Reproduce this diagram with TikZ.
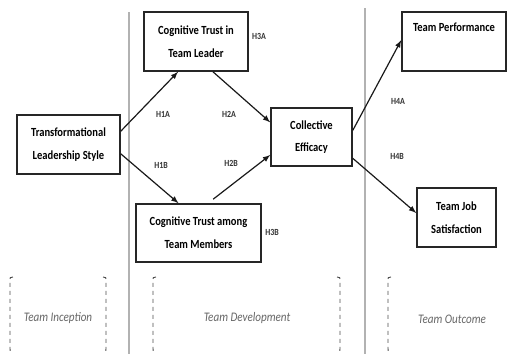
\documentclass[tikz,border=0pt]{standalone}
\usepackage{fontspec}
\setmainfont[FakeStretch=0.85]{Carlito}
\usetikzlibrary{arrows}

\begin{document}
\begin{tikzpicture}[x=0.75pt,y=-0.75pt,
	box/.style={draw=black!85,line width=1.2pt,align=center,inner sep=0pt,
		font=\bfseries\fontsize{9.3}{17}\selectfont},
	link/.style={-latex,line width=0.9pt,black!90},
	hyp/.style={font=\bfseries\fontsize{7}{8}\selectfont,text=black!80},
	stage/.style={font=\itshape\fontsize{9.8}{11}\selectfont,text=black!60},
	divider/.style={black!30,line width=1.2pt},
	bracket/.style={black!70,dashed,line width=0.7pt}]
	\useasboundingbox (0,0) rectangle (511,354);
	
	% phases
	\draw [divider] (129,12) -- (129,354);
	\draw [divider] (365,8) -- (365,354);
	\foreach \x/\d in {10/1,106/-1,153/1,340/-1,388/1}{
		\draw [bracket] (\x+3*\d,277) .. controls (\x,277) .. (\x,282) -- (\x,347) .. controls (\x,352) .. (\x+3*\d,352);
	}
	\node [stage] (inception) at (58,318) {Team Inception};
	\node [stage] (development) at (247,318) {Team Development};
	\node [stage] (outcome) at (452,319) {Team Outcome};
	
	% constructs
	\node [box,minimum width=77.25pt,minimum height=44.25pt] (tls) at (68.5,144.5) {Transformational\\Leadership Style};
	\node [box,minimum width=78pt,minimum height=44.25pt] (leader) at (196,41.5) {Cognitive Trust in\\Team Leader};
	\node [box,minimum width=93.75pt,minimum height=43.5pt] (members) at (198.5,233) {Cognitive Trust among\\Team Members};
	\node [box,minimum width=60.75pt,minimum height=43.5pt] (eff) at (311.5,137) {Collective\\Efficacy};
	\node [box,minimum width=78pt,minimum height=44.25pt] (perf) at (454,41.5) {Team Performance\\\strut};
	\node [box,minimum width=59.25pt,minimum height=44.25pt] (jobsat) at (456.5,217.5) {Team Job\\Satisfaction};
	
	\draw [link] ([yshift=10pt]tls.east) to ([xshift=-13.5pt]leader.south);
	\draw [link] ([yshift=-7pt]tls.east) to ([xshift=-15pt]members.north);
	\draw [link] ([xshift=12.75pt]leader.south) to ([yshift=11pt]eff.west);
	\draw [link] ([xshift=11pt,yshift=3pt]members.north) to ([yshift=-13.5pt]eff.west);
	\draw [link] ([yshift=5pt]eff.east) to ([yshift=1pt]perf.west);
	\draw [link] ([yshift=-16pt]eff.east) to ([yshift=3.4pt]jobsat.west);
	
	% hypotheses
	\foreach \n/\x/\y in {H1A/163/114,H2A/229/114,H1B/161/165,H2B/231/163,H3A/259/36,H3B/272/232,H4A/398/101,H4B/397/156}{
		\node [hyp] (\n) at (\x,\y) {\n};
	}
	
\end{tikzpicture}
\end{document}
